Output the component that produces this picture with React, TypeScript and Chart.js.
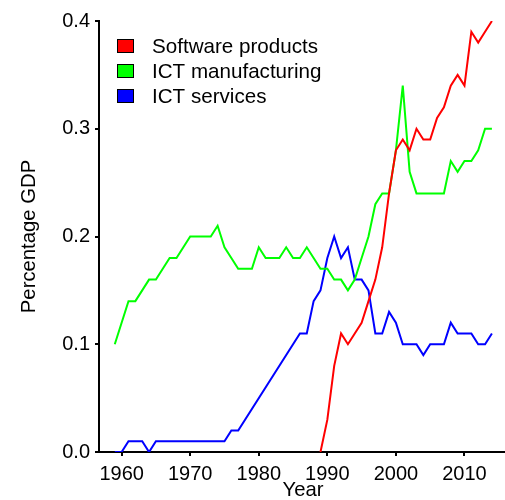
import React, { useEffect, useRef } from "react";
import { Chart, registerables } from "chart.js";

Chart.register(...registerables);

const years = [
  1959, 1960, 1961, 1962, 1963, 1964, 1965, 1966, 1967, 1968,
  1969, 1970, 1971, 1972, 1973, 1974, 1975, 1976, 1977, 1978,
  1979, 1980, 1981, 1982, 1983, 1984, 1985, 1986, 1987, 1988,
  1989, 1990, 1991, 1992, 1993, 1994, 1995, 1996, 1997, 1998,
  1999, 2000, 2001, 2002, 2003, 2004, 2005, 2006, 2007, 2008,
  2009, 2010, 2011, 2012, 2013, 2014,
];

const softwareProducts: (number | null)[] = [
  null, null, null, null, null, null, null, null, null, null,
  null, null, null, null, null, null, null, null, null, null,
  null, null, null, null, null, null, null, null, null, null,
  0.0, 0.03, 0.08, 0.11, 0.10, 0.11, 0.12, 0.14, 0.16, 0.19,
  0.24, 0.28, 0.29, 0.28, 0.30, 0.29, 0.29, 0.31, 0.32, 0.34,
  0.35, 0.34, 0.39, 0.38, 0.39, 0.40,
];

const ictManufacturing: (number | null)[] = [
  0.10, null, 0.14, 0.14, 0.15, 0.16, 0.16, 0.17, 0.18, 0.18,
  0.19, 0.20, 0.20, 0.20, 0.20, 0.21, 0.19, 0.18, 0.17, 0.17,
  0.17, 0.19, 0.18, 0.18, 0.18, 0.19, 0.18, 0.18, 0.19, 0.18,
  0.17, 0.17, 0.16, 0.16, 0.15, 0.16, 0.18, 0.20, 0.23, 0.24,
  0.24, 0.28, 0.34, 0.26, 0.24, 0.24, 0.24, 0.24, 0.24, 0.27,
  0.26, 0.27, 0.27, 0.28, 0.30, 0.30,
];

const ictServices: (number | null)[] = [
  0.0, 0.0, 0.01, 0.01, 0.01, 0.0, 0.01, 0.01, 0.01, 0.01,
  0.01, 0.01, 0.01, 0.01, 0.01, 0.01, 0.01, 0.02, 0.02, null,
  null, null, null, null, null, null, null, 0.11, 0.11, 0.14,
  0.15, 0.18, 0.20, 0.18, 0.19, 0.16, 0.16, 0.15, 0.11, 0.11,
  0.13, 0.12, 0.10, 0.10, 0.10, 0.09, 0.10, 0.10, 0.10, 0.12,
  0.11, 0.11, 0.11, 0.10, 0.10, 0.11,
];

const seriesNames = ["Software products", "ICT manufacturing", "ICT services"];
const seriesColors = ["#ff0000", "#00ff00", "#0000ff"];
const xTicks = [1960, 1970, 1980, 1990, 2000, 2010];
const yTicks = [0.0, 0.1, 0.2, 0.3, 0.4];

const FONT = '"Liberation Sans", Arial, sans-serif';

const legendPlugin = {
  id: "customLegend",
  afterDraw(chart: any) {
    const { ctx, chartArea } = chart;
    ctx.save();
    ctx.font = `20.6px ${FONT}`;
    ctx.textBaseline = "alphabetic";
    ctx.textAlign = "left";
    seriesNames.forEach((name, i) => {
      const boxX = chartArea.left + 18.5;
      const boxY = chartArea.top + 18.5 + i * 25;
      ctx.fillStyle = seriesColors[i];
      ctx.fillRect(boxX, boxY, 16, 13);
      ctx.strokeStyle = "#000";
      ctx.lineWidth = 1;
      ctx.strokeRect(boxX, boxY, 16, 13);
      ctx.fillStyle = "#000";
      ctx.fillText(name, chartArea.left + 53, chartArea.top + 32 + i * 25);
    });
    ctx.restore();
  },
};

export default function App() {
  const canvasRef = useRef<HTMLCanvasElement | null>(null);

  useEffect(() => {
    if (!canvasRef.current) return;
    const allSeries = [softwareProducts, ictManufacturing, ictServices];
    const chart = new Chart(canvasRef.current, {
      type: "line",
      data: {
        datasets: allSeries.map((vals, i) => ({
          label: seriesNames[i],
          data: years.map((yr, j) => ({ x: yr, y: vals[j] })),
          borderColor: seriesColors[i],
          backgroundColor: seriesColors[i],
          borderWidth: 2,
          pointRadius: 0,
          tension: 0,
          spanGaps: true,
          fill: false,
        })),
      },
      options: {
        animation: false,
        responsive: false,
        devicePixelRatio: 1,
        layout: { padding: { left: 0, top: 21, right: 23, bottom: 0 } },
        plugins: {
          legend: { display: false },
          tooltip: { enabled: false },
        },
        scales: {
          x: {
            type: "linear",
            min: 1956.7,
            max: 2016.2,
            afterBuildTicks: (scale: any) => {
              scale.ticks = xTicks.map((v) => ({ value: v }));
            },
            afterFit: (scale: any) => {
              scale.height = 68;
            },
            grid: {
              display: true,
              drawOnChartArea: false,
              drawTicks: true,
              tickLength: 4,
              color: "#000",
              lineWidth: 2,
            },
            border: { display: true, color: "#000", width: 2 },
            ticks: {
              color: "#000",
              font: { family: FONT, size: 20 },
              padding: 6,
              maxRotation: 0,
              autoSkip: false,
              callback: (v: any) => String(v),
            },
            title: {
              display: true,
              text: "Year",
              color: "#000",
              font: { family: FONT, size: 20.3 },
              padding: { top: 0, bottom: 17 },
            },
          },
          y: {
            type: "linear",
            min: 0,
            max: 0.4,
            afterBuildTicks: (scale: any) => {
              scale.ticks = yTicks.map((v) => ({ value: v }));
            },
            afterFit: (scale: any) => {
              scale.width = 99;
            },
            grid: {
              display: true,
              drawOnChartArea: false,
              drawTicks: true,
              tickLength: 4,
              color: "#000",
              lineWidth: 2,
            },
            border: { display: true, color: "#000", width: 2 },
            ticks: {
              color: "#000",
              font: { family: FONT, size: 20 },
              padding: 5,
              callback: (v: any) => Number(v).toFixed(1),
            },
            title: {
              display: true,
              text: "Percentage GDP",
              color: "#000",
              font: { family: FONT, size: 20.3 },
              padding: { top: 17.5, bottom: 0 },
            },
          },
        },
      },
      plugins: [legendPlugin],
    });
    return () => chart.destroy();
  }, []);

  return (
    <div
      style={{
        position: "fixed",
        left: 0,
        top: 0,
        width: 505,
        height: 500,
        overflow: "hidden",
        background: "#fff",
      }}
    >
      <canvas ref={canvasRef} width={530} height={520} style={{ display: "block" }} />
    </div>
  );
}
